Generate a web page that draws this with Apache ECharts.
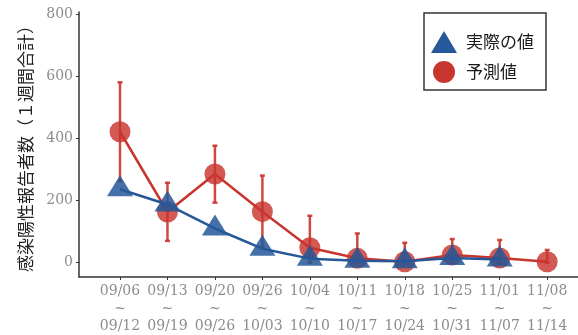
<!DOCTYPE html>
<html><head><meta charset="utf-8">
<script src="https://cdn.jsdelivr.net/npm/echarts@6/dist/echarts.min.js"></script>
<style>html,body{margin:0;padding:0;background:#fff}#c{width:578px;height:335px}</style>
</head><body><div id="c"></div>
<script>
const weekStart = ['09/06','09/13','09/20','09/26','10/04','10/11','10/18','10/25','11/01','11/08'];
const weekEnd   = ['09/12','09/19','09/26','10/03','10/10','10/17','10/24','10/31','11/07','11/14'];
const actual    = [236, 187, 110, 45, 13, 6, 5, 15, 10, null];
const predicted = [421, 163, 285, 164, 48, 14, 3, 25, 15, 3];
const predLow   = [262, 70, 193, 48, 0, 0, 0, 0, 0, 0];
const predHigh  = [580, 257, 376, 280, 151, 94, 64, 76, 73, 41];
const yTicks    = [0, 200, 400, 600, 800];

const RED = '#C8352E', BLUE = '#255899';
const idx = weekStart.map((_, i) => i);
const chart = echarts.init(document.getElementById('c'));
const tickFont = {fontFamily: 'DejaVu Serif', fontSize: 14, color: '#8c8c8c'};
chart.setOption({
  animation: false,
  grid: {left: 79, right: 0, top: 12, bottom: 58, containLabel: false, outerBoundsMode: 'none'},
  xAxis: {
    type: 'value', min: -0.864, max: 9.65,
    splitLine: {show: false},
    axisLine: {show: true, onZero: false, lineStyle: {color: '#333', width: 1.5}},
    axisTick: {show: true, length: 3, customValues: idx, lineStyle: {color: '#333'}},
    axisLabel: Object.assign({customValues: idx, margin: 6, lineHeight: 17.5,
      formatter: v => weekStart[Math.round(v)] + '\n~\n' + weekEnd[Math.round(v)]}, tickFont)
  },
  yAxis: {
    type: 'value', min: -46, max: 806,
    name: '感染陽性報告者数（１週間合計）', nameLocation: 'middle', nameGap: 45,
    nameTextStyle: {fontFamily: 'Noto Sans CJK JP', fontSize: 17, color: '#222'},
    splitLine: {show: false},
    axisLine: {show: true, onZero: false, lineStyle: {color: '#333', width: 1.5}},
    axisTick: {show: true, length: 3, customValues: yTicks, lineStyle: {color: '#333'}},
    axisLabel: Object.assign({customValues: yTicks, margin: 6}, tickFont)
  },
  legend: {
    left: 424, top: 13, orient: 'vertical',
    padding: [18, 12, 7, 7],
    itemWidth: 26, itemHeight: 22, itemGap: 8,
    borderColor: '#333', borderWidth: 1.5,
    itemStyle: {opacity: 1},
    textStyle: {fontFamily: 'Noto Sans CJK JP', fontSize: 17, color: '#1a1a1a', padding: [0, 0, 0, 4]},
    data: [{name: '実際の値', icon: 'triangle'}, {name: '予測値', icon: 'circle'}]
  },
  series: [
    {
      type: 'custom', name: 'err', silent: true, z: 1,
      data: idx.map(i => [i, predLow[i], predHigh[i]]),
      renderItem: (params, api) => {
        const lo = api.coord([api.value(0), api.value(1)]);
        const hi = api.coord([api.value(0), api.value(2)]);
        const s = {stroke: RED, lineWidth: 2.5, opacity: 0.9};
        return {type: 'group', children: [
          {type: 'line', shape: {x1: lo[0], y1: lo[1], x2: hi[0], y2: hi[1]}, style: s},
          {type: 'line', shape: {x1: hi[0] - 2.5, y1: hi[1], x2: hi[0] + 2.5, y2: hi[1]}, style: s},
          {type: 'line', shape: {x1: lo[0] - 2.5, y1: lo[1], x2: lo[0] + 2.5, y2: lo[1]}, style: s}
        ]};
      }
    },
    {
      type: 'line', name: '予測値', z: 2,
      data: idx.map(i => [i, predicted[i]]),
      symbol: 'circle', symbolSize: 21,
      itemStyle: {color: RED, opacity: 0.82},
      lineStyle: {color: RED, width: 2.5}
    },
    {
      type: 'line', name: '実際の値', z: 3,
      data: idx.filter(i => actual[i] != null).map(i => [i, actual[i]]),
      symbol: 'triangle', symbolSize: [26, 21], symbolOffset: [0, -3.5],
      itemStyle: {color: BLUE, opacity: 0.85},
      lineStyle: {color: BLUE, width: 2.5}
    }
  ]
});
</script></body></html>
